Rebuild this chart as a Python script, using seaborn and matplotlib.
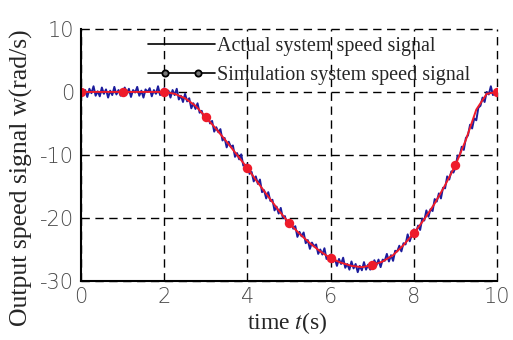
import numpy as np
import pandas as pd
import matplotlib
matplotlib.use("Agg")
import matplotlib.pyplot as plt
import seaborn as sns
from matplotlib.lines import Line2D
from matplotlib.legend_handler import HandlerLine2D

# actual (measured) speed signal, sampled every 0.05 s from 0 to 10 s
actual_w = [
    0.6, -0.5, 0.3, -0.8, 0.5, -0.2, 0.9, -0.6, 0.1, -0.7, 0.7, -0.3, 0.4, -0.9, 0.2, -0.5, 0.8, -0.4, 0.3, -0.6,
    -0.4, 0.7, -0.2, 0.5, -0.8, 0.3, -0.1, 0.8, -0.6, 0.2, -0.9, 0.4, 0.0, 0.6, -0.7, 0.3, -0.3, 0.9, -0.5, 0.1,
    0.6, -0.5, 0.2, -0.9, 0.3, -0.5, 0.5, -1.2, -0.6, -1.6, -0.3, -1.5, -1.0, -2.6, -1.8, -2.7, -1.8, -3.3, -3.0, -4.2,
    -4.4, -3.7, -5.0, -4.6, -6.3, -5.6, -6.4, -5.9, -7.7, -7.3, -8.8, -7.9, -8.7, -8.5, -10.3, -9.7, -10.7, -9.9, -11.7, -11.6,
    -11.5, -13.0, -12.7, -14.2, -13.4, -14.6, -13.9, -15.9, -15.6, -16.9, -15.9, -17.3, -17.1, -18.8, -18.2, -19.3, -18.4, -20.0, -19.7, -21.0,
    -21.2, -20.5, -21.7, -21.3, -23.0, -22.2, -22.9, -22.3, -24.0, -23.5, -24.9, -23.9, -24.5, -24.2, -25.7, -25.0, -25.8, -24.8, -26.5, -26.1,
    -25.8, -27.0, -26.4, -27.6, -26.5, -27.3, -26.3, -27.9, -27.3, -28.2, -26.9, -28.0, -27.3, -28.6, -27.6, -28.3, -27.0, -28.2, -27.4, -28.2,
    -27.9, -26.7, -27.5, -26.6, -27.8, -26.6, -26.8, -25.7, -26.9, -25.9, -26.8, -25.2, -25.3, -24.4, -25.3, -24.0, -24.2, -22.6, -23.7, -22.7,
    -21.8, -22.5, -21.2, -21.9, -20.1, -20.4, -18.8, -19.8, -18.6, -18.9, -17.0, -17.4, -16.1, -16.9, -15.2, -15.3, -13.4, -13.9, -12.6, -12.8,
    -12.0, -10.1, -10.2, -8.7, -9.2, -7.3, -6.9, -5.2, -5.8, -4.2, -4.5, -2.5, -2.2, -0.9, -1.6, 0.0, -0.4, 0.9, -0.5, 0.1,
    0.0,
]
actual_t = [i * 0.05 for i in range(len(actual_w))]

# simulated speed signal, every 0.25 s
sim_w = [0, 0, 0, 0, 0, 0, 0, 0, 0, -0.3, -1.0, -2.2,
         -4.0, -5.9, -7.9, -10.0, -12.1, -14.4, -16.6, -18.8,
         -20.8, -22.5, -24.0, -25.3, -26.4, -27.1, -27.6, -27.8,
         -27.5, -26.9, -25.9, -24.3, -22.4, -20.2, -17.7, -14.8,
         -11.6, -7.6, -2.8, -0.3, 0.0]
sim_t = [i * 0.25 for i in range(len(sim_w))]

xticks = [0, 2, 4, 6, 8, 10]
yticks = [-30, -20, -10, 0, 10]

actual_df = pd.DataFrame({"t": actual_t, "w": actual_w})
sim_df = pd.DataFrame({"t": sim_t, "w": sim_w})

sns.set_style("white")
plt.rcParams["font.family"] = ["Liberation Serif", "DejaVu Serif"]
plt.rcParams["mathtext.fontset"] = "stix"

fig = plt.figure(figsize=(5.13, 3.4), dpi=100)
ax = fig.add_axes([0.158, 0.1735, 0.811, 0.7415])

sns.lineplot(data=actual_df, x="t", y="w", ax=ax, color="#1c1c9c", lw=1.4, zorder=3)
sns.lineplot(data=sim_df, x="t", y="w", ax=ax, color="#ee1b2a", lw=1.4,
             marker="o", markevery=4, markersize=6.8, markeredgewidth=0, zorder=4)

ax.set_xlim(0, 10)
ax.set_ylim(-30, 10)
ax.set_xticks(xticks)
ax.set_yticks(yticks)
ax.set_xticklabels([str(v) for v in xticks], family="DejaVu Sans", weight="light",
                   color="#4a4a4a", fontsize=15)
ax.set_yticklabels([str(v) for v in yticks], family="DejaVu Sans",
                   weight="light", color="#4a4a4a", fontsize=15)
ax.tick_params(axis="x", length=0, pad=4)
ax.tick_params(axis="y", length=0, pad=5)

ax.grid(True, color="black", linestyle=(0, (6, 4)), lw=1.0)
for gl in ax.get_xgridlines() + ax.get_ygridlines():
    gl.set_clip_on(False)
for s in ["top", "right"]:
    ax.spines[s].set_visible(False)
for s in ["left", "bottom"]:
    ax.spines[s].set_color("black")
    ax.spines[s].set_linewidth(1.5)
    ax.spines[s].set_zorder(5)

ax.set_xlabel("time $t$(s)", fontsize=17)
ax.xaxis.set_label_coords(0.495, -0.115)
ax.set_ylabel("Output speed signal w(rad/s)", fontsize=18.5)
ax.yaxis.set_label_coords(-0.115, 0.41)

h1 = Line2D([], [], color="black", lw=1.2)
h2 = Line2D([], [], color="black", lw=1.2, marker="o", markersize=4.5,
            markerfacecolor="#777777", markeredgecolor="black", markeredgewidth=1.3)
leg = ax.legend([h1, h2], ["Actual system speed signal", "Simulation system speed signal"],
                loc="upper left", bbox_to_anchor=(0.161, 0.97), frameon=False, fontsize=14.5,
                borderaxespad=0, borderpad=0,
                handlelength=3.33, handletextpad=0.1, labelspacing=0.5,
                handler_map={h2: HandlerLine2D(numpoints=5, marker_pad=0)})
# only the two inner points of the second handle carry a marker
leg.legend_handles[1].set_markevery([1, 3])

fig.savefig("out.png", dpi=100)
